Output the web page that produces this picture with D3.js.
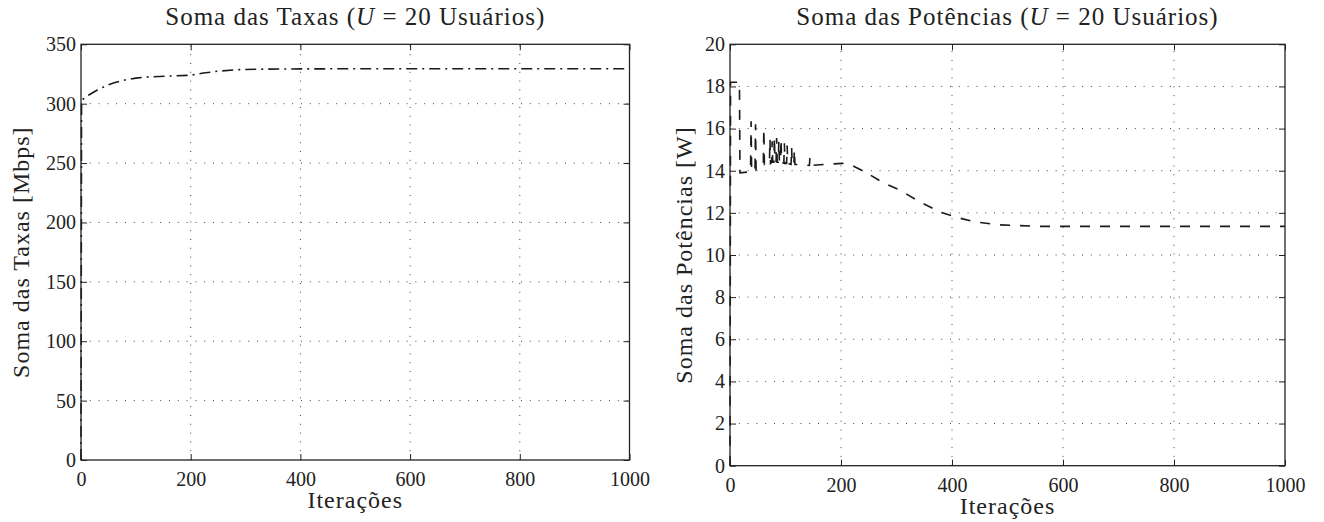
<!DOCTYPE html>
<html><head><meta charset="utf-8">
<script src="https://cdn.jsdelivr.net/npm/d3@7"></script>
<style>body{margin:0;background:#fff}svg{display:block}</style>
</head><body>
<svg id="c" width="1324" height="522"></svg>
<script>
// ---- data ----
const xTicks = [0, 200, 400, 600, 800, 1000];
const rateTicks = [0, 50, 100, 150, 200, 250, 300, 350];
const powerTicks = [0, 2, 4, 6, 8, 10, 12, 14, 16, 18, 20];

const rateIter = [0, 1, 15, 29, 45, 59, 83, 100, 120, 162, 199, 223, 253, 290, 320, 360, 400, 500, 600, 700, 800, 900, 1000];
const rateVals = [0, 302.9, 307.5, 311.3, 315.0, 317.5, 320.3, 321.5, 322.5, 323.3, 323.9, 325.8, 327.5, 328.7, 329.0, 329.2, 329.3, 329.4, 329.4, 329.4, 329.4, 329.4, 329.4];

const powerIter = [0, 1, 17, 18, 37, 38, 39, 45, 46, 47, 60, 61, 62, 71, 72, 73, 75, 76, 77, 79, 80, 81, 83, 84, 85, 87, 88, 89, 91, 92, 93, 97, 98, 99, 102, 103, 104, 110, 111, 112, 115, 116, 117, 143, 144, 145, 170, 203, 220, 243, 276, 306, 342, 378, 405, 441, 486, 558, 650, 800, 1000];
const powerVals = [0, 18.2, 18.2, 13.9, 13.95, 16.35, 13.97, 14.0, 16.2, 14.05, 14.3, 16.0, 14.3, 14.35, 15.5, 14.35, 14.4, 15.4, 14.4, 14.4, 15.6, 14.4, 14.4, 15.55, 14.4, 14.4, 15.4, 14.4, 14.4, 15.5, 14.4, 14.35, 15.3, 14.35, 14.35, 15.2, 14.35, 14.3, 15.1, 14.3, 14.3, 15.0, 14.3, 14.25, 14.6, 14.25, 14.3, 14.35, 14.25, 13.95, 13.43, 13.08, 12.52, 12.05, 11.81, 11.57, 11.43, 11.36, 11.36, 11.36, 11.36];

const titles = ["Soma das Taxas (", "Soma das Potências ("];
const yLabels = ["Soma das Taxas [Mbps]", "Soma das Potências [W]"];
const xLabel = "Iterações";

// ---- drawing ----
const svg = d3.select("#c");
const FONT = "'Liberation Serif', 'DejaVu Serif', serif";
const TXT = 24, TTL = 25, LS = 1, TICK = 20;

function panel(cfg) {
  const x = d3.scaleLinear().domain([0, 1000]).range([cfg.x0, cfg.x1]);
  const y = d3.scaleLinear().domain(cfg.yDomain).range([cfg.y0, cfg.y1]);
  const g = svg.append("g");

  // grid
  g.append("g").selectAll("line").data(xTicks.slice(1, -1)).join("line")
    .attr("x1", d => x(d)).attr("x2", d => x(d)).attr("y1", cfg.y0).attr("y2", cfg.y1)
    .attr("stroke", "#444").attr("stroke-width", 1).attr("stroke-dasharray", "1,7.8");
  g.append("g").selectAll("line").data(cfg.yTicks.slice(1, -1)).join("line")
    .attr("y1", d => y(d)).attr("y2", d => y(d)).attr("x1", cfg.x0).attr("x2", cfg.x1)
    .attr("stroke", "#444").attr("stroke-width", 1).attr("stroke-dasharray", "1,7.8");

  const tl = 6, fmt = d3.format("d");
  const axB = g.append("g").attr("transform", `translate(0,${cfg.y0})`)
    .call(d3.axisBottom(x).tickValues(xTicks).tickFormat(fmt).tickSizeInner(-tl).tickSizeOuter(0).tickPadding(12));
  const axT = g.append("g").attr("transform", `translate(0,${cfg.y1})`)
    .call(d3.axisTop(x).tickValues(xTicks).tickSizeInner(-tl).tickSizeOuter(0).tickFormat(""));
  const axL = g.append("g").attr("transform", `translate(${cfg.x0},0)`)
    .call(d3.axisLeft(y).tickValues(cfg.yTicks).tickFormat(fmt).tickSizeInner(-tl).tickSizeOuter(0).tickPadding(5));
  const axR = g.append("g").attr("transform", `translate(${cfg.x1},0)`)
    .call(d3.axisRight(y).tickValues(cfg.yTicks).tickSizeInner(-tl).tickSizeOuter(0).tickFormat(""));
  [axB, axT, axL, axR].forEach(a => {
    a.select(".domain").remove();
    a.selectAll("line").attr("stroke", "#222").attr("stroke-width", 1);
    a.selectAll("text").attr("font-family", FONT).attr("font-size", TICK).attr("fill", "#222");
  });

  const line = d3.line().x(d => x(d[0])).y(d => y(d[1]));
  g.append("path").datum(cfg.iter.map((d, i) => [d, cfg.vals[i]]))
    .attr("d", line).attr("fill", "none").attr("stroke", "#1a1a1a")
    .attr("stroke-width", 1.6).attr("stroke-dasharray", cfg.dash);

  g.append("rect").attr("x", cfg.x0).attr("y", cfg.y1).attr("width", cfg.x1 - cfg.x0).attr("height", cfg.y0 - cfg.y1)
    .attr("fill", "none").attr("stroke", "#222").attr("stroke-width", 1.3);

  const cx = (cfg.x0 + cfg.x1) / 2;
  const t = g.append("text").attr("x", cx).attr("y", 25).attr("text-anchor", "middle")
    .attr("font-family", FONT).attr("font-size", TTL).attr("letter-spacing", LS).attr("fill", "#222");
  t.append("tspan").text(cfg.title);
  t.append("tspan").attr("font-style", "italic").text("U");
  t.append("tspan").text(" = 20 Usuários)");

  g.append("text").attr("x", cx).attr("y", cfg.y0 + 48).attr("text-anchor", "middle")
    .attr("font-family", FONT).attr("font-size", TXT).attr("letter-spacing", LS).attr("fill", "#222").text(xLabel);
  g.append("text").attr("transform", `translate(${cfg.ylx},${(cfg.y0 + cfg.y1) / 2}) rotate(-90)`)
    .attr("text-anchor", "middle").attr("font-family", FONT).attr("font-size", TXT).attr("letter-spacing", LS)
    .attr("fill", "#222").text(cfg.ylabel);
}

panel({x0: 81, x1: 629.5, y0: 460, y1: 44.3, yDomain: [0, 350], yTicks: rateTicks,
  iter: rateIter, vals: rateVals, dash: "11,5,2,5", title: titles[0], ylabel: yLabels[0], ylx: 29});
panel({x0: 730, x1: 1285, y0: 465.7, y1: 44.3, yDomain: [0, 20], yTicks: powerTicks,
  iter: powerIter, vals: powerVals, dash: "10,10", title: titles[1], ylabel: yLabels[1], ylx: 692});
</script>
</body></html>
